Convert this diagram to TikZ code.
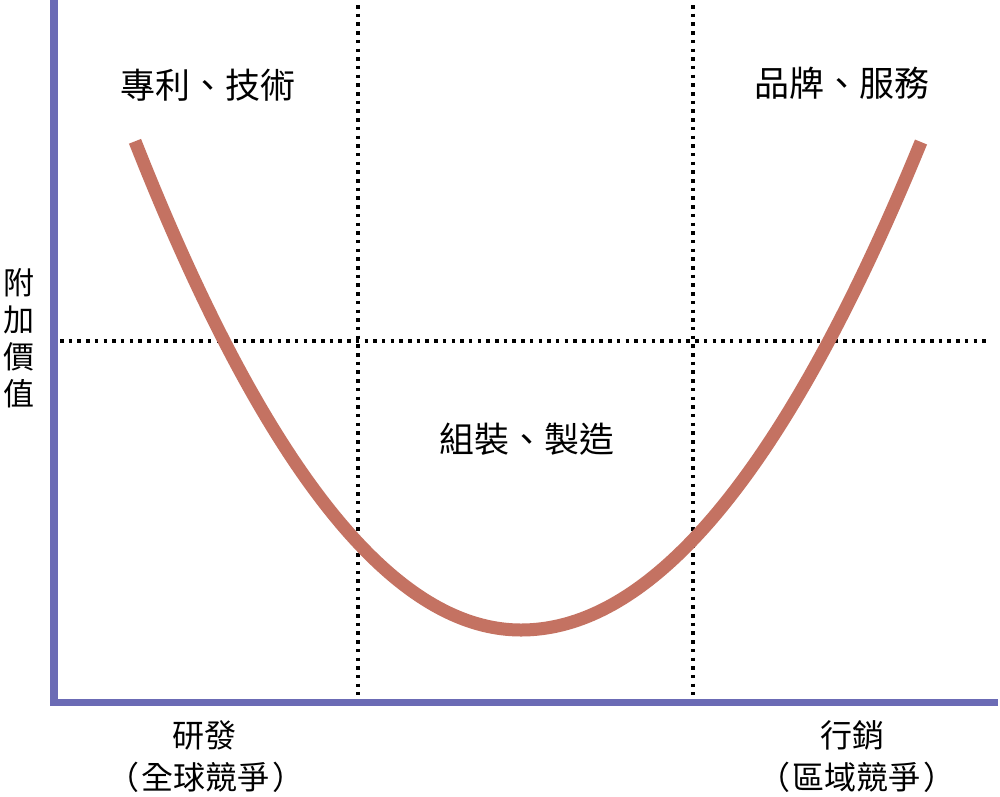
\documentclass[tikz,border=0pt]{standalone}
\usepackage{fontspec}
\newfontfamily\cjk{Noto Sans CJK TC}
\definecolor{axisblue}{HTML}{6B6BB5}
\definecolor{curvered}{HTML}{C47262}
\tikzset{
  axisline/.style={draw=axisblue, line width=7.5pt, line join=miter},
  dotline/.style={draw=black, line width=3.5pt, dash pattern=on 3.5pt off 5.2pt},
  curveline/.style={draw=curvered, line width=13pt},
  biglabel/.style={inner sep=0pt, font=\cjk\fontsize{35}{40}\selectfont},
  smalllabel/.style={inner sep=0pt, align=center, font=\cjk\fontsize{32}{37}\selectfont},
  vlabel/.style={inner sep=0pt, align=center, font=\cjk\fontsize{31}{37}\selectfont}
}
\begin{document}
\begin{tikzpicture}[x=1pt,y=-1pt]
\useasboundingbox (0,0) rectangle (1000,796);
\fill[white] (0,0) rectangle (1000,796);
% dotted guide lines
\coordinate (v1t) at (358,5);
\coordinate (v1b) at (358,695);
\coordinate (v2t) at (693,5);
\coordinate (v2b) at (693,695);
\coordinate (hl) at (60,341);
\coordinate (hr) at (986,341);
\draw[dotline] (v1t) -- (v1b);
\draw[dotline] (v2t) -- (v2b);
\draw[dotline] (hl) -- (hr);
% curve (two half-parabolas meeting at the vertex)
\coordinate (vertex) at (521,630);
\draw[curveline]
  plot[domain=-386:0, samples=80] ({521+\x},{630-32.8*(\x/100)*(\x/100)})
  -- plot[domain=0:400, samples=80] ({521+\x},{630-30.5*(\x/100)*(\x/100)});
% axes
\coordinate (ytop) at (54,0);
\coordinate (origin) at (54,702.5);
\coordinate (xend) at (998,702.5);
\draw[axisline] (ytop) -- (origin) -- (xend);
% labels
\node[biglabel] (patent) at (208,85) {專利、技術};
\node[biglabel] (brand) at (842,83) {品牌、服務};
\node[biglabel] (assembly) at (527,439) {組裝、製造};
\node[vlabel] (value) at (19,338) {附\\加\\價\\值};
\node[smalllabel] (rd) at (204,735) {研發};
\node[smalllabel] (rdsub) at (206,777) {（\hspace{3pt}全球競爭\hspace{3pt}）};
\node[smalllabel] (mk) at (852,735) {行銷};
\node[smalllabel] (mksub) at (857,777) {（\hspace{3pt}區域競爭\hspace{3pt}）};
\end{tikzpicture}
\end{document}
